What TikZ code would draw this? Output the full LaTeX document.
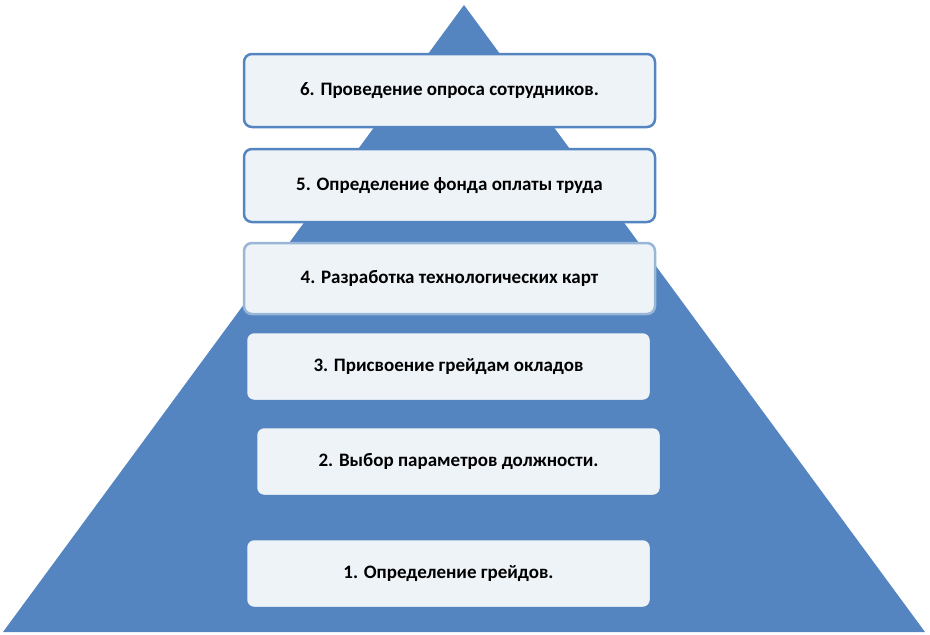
\documentclass[tikz,border=0pt]{standalone}
\usepackage{fontspec}
\setmainfont{Carlito}
\definecolor{pyrblue}{HTML}{5585C0}
\definecolor{boxfill}{HTML}{EEF3F8}
\begin{document}
\begin{tikzpicture}[
x=1pt,
y=-1pt,
stepbox/.style={rectangle, rounded corners=8pt, draw=pyrblue, fill=boxfill, line width=2.5pt, font=\fontsize{19}{22}\selectfont\bfseries},
]
\useasboundingbox (0,0) rectangle (930,635);
\fill[pyrblue] (464,5) -- (925,632) -- (3,632) -- cycle;
\node[stepbox, minimum width=411pt, minimum height=73pt] (s6) at (449.5,90.5) {6. Проведение опроса сотрудников.};
\node[stepbox, minimum width=411pt, minimum height=73pt] (s5) at (449.5,185.5) {5. Определение фонда оплаты труда};
\node[stepbox, minimum width=411pt, minimum height=71pt, draw=pyrblue!60] (s4) at (449.5,278.5) {4. Разработка технологических карт};
\node[stepbox, minimum width=405pt, minimum height=69pt] (s3) at (448.5,366.5) {3. Присвоение грейдам окладов};
\node[stepbox, minimum width=405pt, minimum height=69pt] (s2) at (458.5,461.5) {2. Выбор параметров должности.};
\node[stepbox, minimum width=405pt, minimum height=69pt] (s1) at (448.5,573.5) {1. Определение грейдов.};
\end{tikzpicture}
\end{document}
